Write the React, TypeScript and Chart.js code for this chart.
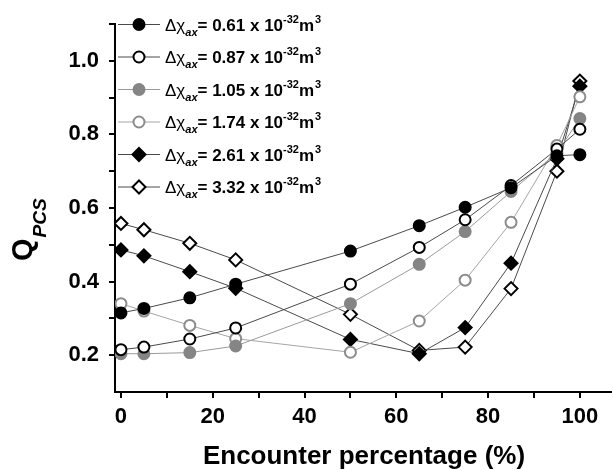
import React, { useEffect, useRef } from "react";
import { Chart, registerables } from "chart.js";

Chart.register(...registerables);

const xValues = [0, 5, 15, 25, 50, 65, 75, 85, 95, 100];
const s061 = [0.315, 0.327, 0.356, 0.393, 0.483, 0.552, 0.602, 0.655, 0.742, 0.745];
const s087 = [0.215, 0.222, 0.244, 0.274, 0.393, 0.493, 0.568, 0.661, 0.76, 0.814];
const s105 = [0.204, 0.204, 0.207, 0.225, 0.34, 0.447, 0.536, 0.645, 0.75, 0.843];
const s174 = [0.34, 0.32, 0.281, 0.245, 0.208, 0.293, 0.404, 0.561, 0.77, 0.902];
const s261 = [0.486, 0.47, 0.427, 0.382, 0.243, 0.204, 0.275, 0.45, 0.734, 0.931];
const s332 = [0.558, 0.541, 0.504, 0.459, 0.311, 0.213, 0.222, 0.381, 0.7, 0.945];
const legendValues = ["0.61", "0.87", "1.05", "1.74", "2.61", "3.32"];
const xTickValues = [0, 10, 20, 30, 40, 50, 60, 70, 80, 90, 100];
const yTickValues = [0.2, 0.3, 0.4, 0.5, 0.6, 0.7, 0.8, 0.9, 1.0, 1.1];

const FONT = '"Liberation Sans", Arial, sans-serif';

type Style = { shape: string; fill: string; stroke: string; line: string; r: number };
const styles: Style[] = [
  { shape: "circle", fill: "#000000", stroke: "#000000", line: "#4a4a4a", r: 5.5 },
  { shape: "circle", fill: "#ffffff", stroke: "#000000", line: "#4a4a4a", r: 5.5 },
  { shape: "circle", fill: "#858585", stroke: "#858585", line: "#9a9a9a", r: 5.5 },
  { shape: "circle", fill: "#ffffff", stroke: "#8c8c8c", line: "#a5a5a5", r: 5.5 },
  { shape: "rectRot", fill: "#000000", stroke: "#000000", line: "#4a4a4a", r: 6.5 },
  { shape: "rectRot", fill: "#ffffff", stroke: "#000000", line: "#4a4a4a", r: 6.5 },
];
const seriesList = [s061, s087, s105, s174, s261, s332];

function drawMarker(ctx: CanvasRenderingContext2D, st: Style, x: number, y: number) {
  ctx.save();
  ctx.beginPath();
  if (st.shape === "circle") {
    ctx.arc(x, y, st.r, 0, Math.PI * 2);
  } else {
    ctx.moveTo(x - st.r, y);
    ctx.lineTo(x, y - st.r);
    ctx.lineTo(x + st.r, y);
    ctx.lineTo(x, y + st.r);
    ctx.closePath();
  }
  ctx.fillStyle = st.fill;
  ctx.fill();
  ctx.lineWidth = 2;
  ctx.strokeStyle = st.stroke;
  ctx.stroke();
  ctx.restore();
}

const overlayPlugin = {
  id: "overlay",
  afterDraw(chart: any) {
    const ctx: CanvasRenderingContext2D = chart.ctx;
    ctx.save();
    // legend
    legendValues.forEach((val, i) => {
      const st = styles[i];
      const y = 24.5 + i * 32.5;
      ctx.beginPath();
      ctx.moveTo(118, y);
      ctx.lineTo(160, y);
      ctx.strokeStyle = st.line;
      ctx.lineWidth = 1;
      ctx.stroke();
      drawMarker(ctx, st, 139, y);
      let x = 165;
      ctx.fillStyle = "#000";
      ctx.textBaseline = "alphabetic";
      ctx.textAlign = "left";
      ctx.font = `17px ${FONT}`;
      ctx.fillText("Δχ", x, y + 6);
      x += ctx.measureText("Δχ").width;
      ctx.font = `italic bold 11px ${FONT}`;
      ctx.fillText("ax", x, y + 11);
      x += ctx.measureText("ax").width;
      ctx.font = `bold 17px ${FONT}`;
      const main = `= ${val} x 10`;
      ctx.fillText(main, x, y + 6);
      x += ctx.measureText(main).width;
      ctx.font = `bold 11px ${FONT}`;
      ctx.fillText("-32", x, y - 2);
      x += ctx.measureText("-32").width;
      ctx.font = `bold 17px ${FONT}`;
      ctx.fillText("m", x, y + 6);
      x += ctx.measureText("m").width;
      ctx.font = `bold 11px ${FONT}`;
      ctx.fillText("3", x + 1, y - 2);
    });
    // y title
    ctx.save();
    ctx.translate(32, 261);
    ctx.rotate(-Math.PI / 2);
    ctx.fillStyle = "#000";
    ctx.textAlign = "left";
    ctx.font = `bold 29px ${FONT}`;
    ctx.fillText("Q", 0, 0);
    const wq = ctx.measureText("Q").width;
    ctx.font = `italic bold 19px ${FONT}`;
    ctx.fillText("PCS", wq + 1, 14);
    ctx.restore();
    // x title
    ctx.font = `bold 26px ${FONT}`;
    ctx.textAlign = "center";
    ctx.fillStyle = "#000";
    ctx.fillText("Encounter percentage (%)", 364, 464);
    ctx.restore();
  },
};

export default function App() {
  const ref = useRef<HTMLCanvasElement | null>(null);
  useEffect(() => {
    if (!ref.current) return;
    const datasets = seriesList.map((s, i) => {
      const st = styles[i];
      return {
        label: legendValues[i],
        data: xValues.map((x, j) => ({ x, y: s[j] })),
        borderColor: st.line,
        borderWidth: 1,
        pointStyle: st.shape,
        pointRadius: st.r,
        pointBackgroundColor: st.fill,
        pointBorderColor: st.stroke,
        pointBorderWidth: 2,
        showLine: true,
        fill: false,
        tension: 0,
      };
    });
    const chart = new Chart(ref.current, {
      type: "scatter",
      data: { datasets },
      plugins: [overlayPlugin],
      options: {
        animation: false,
        responsive: true,
        maintainAspectRatio: false,
        layout: { autoPadding: false, padding: { top: 24, left: 0, right: 0, bottom: 0 } },
        plugins: { legend: { display: false }, tooltip: { enabled: false } },
        scales: {
          x: {
            type: "linear",
            min: -1.3,
            max: 107,
            afterBuildTicks: (scale: any) => {
              scale.ticks = xTickValues.map((v) => ({ value: v }));
            },
            afterFit: (scale: any) => {
              scale.height = 78;
            },
            grid: { drawOnChartArea: false, drawTicks: true, tickLength: 6, color: "#000", lineWidth: 2 },
            border: { display: true, color: "#000", width: 2 },
            ticks: {
              color: "#000",
              padding: 6,
              maxRotation: 0,
              autoSkip: false,
              font: { family: FONT, size: 22, weight: "bold" },
              callback: (v: any) => (Math.round(Number(v)) % 20 === 0 ? String(Math.round(Number(v))) : ""),
            },
          },
          y: {
            type: "linear",
            min: 0.1,
            max: 1.1,
            afterBuildTicks: (scale: any) => {
              scale.ticks = yTickValues.map((v) => ({ value: v }));
            },
            afterFit: (scale: any) => {
              scale.width = 115;
            },
            grid: { drawOnChartArea: false, drawTicks: true, tickLength: 6, color: "#000", lineWidth: 2 },
            border: { display: true, color: "#000", width: 2 },
            ticks: {
              color: "#000",
              padding: 10,
              autoSkip: false,
              font: { family: FONT, size: 22, weight: "bold" },
              callback: (v: any) => {
                const k = Math.round(Number(v) * 10);
                return k % 2 === 0 && k <= 10 ? (k / 10).toFixed(1) : "";
              },
            },
          },
        },
      } as any,
    });
    return () => chart.destroy();
  }, []);
  return (
    <div style={{ position: "fixed", left: 0, top: 0, width: 612, height: 470, background: "#fff" }}>
      <canvas ref={ref} />
    </div>
  );
}
